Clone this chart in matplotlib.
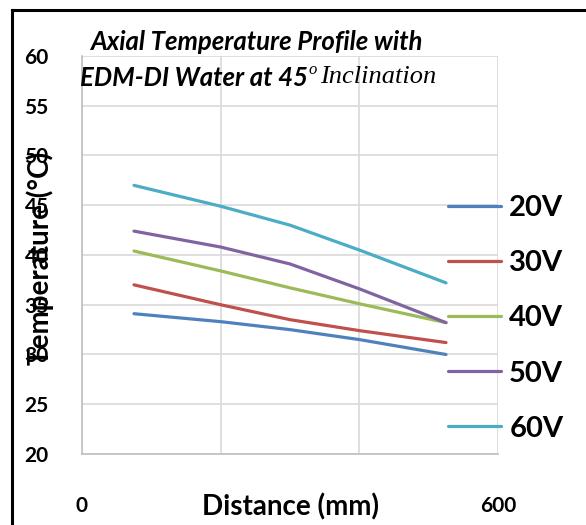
import matplotlib
matplotlib.use("Agg")
import matplotlib.pyplot as plt
from matplotlib.lines import Line2D

# data
distance = [75, 200, 300, 400, 525]
t20 = [34.1, 33.3, 32.5, 31.5, 30.0]
t30 = [37.0, 35.0, 33.5, 32.4, 31.2]
t40 = [40.4, 38.4, 36.7, 35.1, 33.2]
t50 = [42.4, 40.8, 39.1, 36.6, 33.2]
t60 = [47.0, 44.9, 43.0, 40.5, 37.2]
labels = ["20V", "30V", "40V", "50V", "60V"]
colors = ["#4F81BD", "#C0504D", "#9BBB59", "#8064A2", "#4BACC6"]

plt.rcParams['font.family'] = ['Lato', 'DejaVu Sans']

fig = plt.figure(figsize=(5.86, 5.25), dpi=100)
ax = fig.add_axes([82/586, 71/525, 416/586, 398/525])

for ys, lab, c in zip([t20, t30, t40, t50, t60], labels, colors):
    ax.plot(distance, ys, color=c, lw=2.3, label=lab,
            solid_capstyle='round', solid_joinstyle='round')

ax.set_xlim(0, 600)
ax.set_ylim(20, 60)
ax.set_xticks([0, 200, 400, 600])
ax.set_xticklabels(['0', '', '', '600'])
ax.set_yticks(range(20, 61, 5))
ax.grid(True, color='#d9d9d9', lw=1.2)
ax.set_axisbelow(True)
for s in ['top', 'right']:
    ax.spines[s].set_visible(False)
for s in ['left', 'bottom']:
    ax.spines[s].set_color('#bfbfbf')
    ax.spines[s].set_linewidth(1.2)
ax.tick_params(length=0)
ax.tick_params(axis='y', pad=24, labelsize=15)
ax.tick_params(axis='x', pad=30, labelsize=15)
for t in ax.get_xticklabels() + ax.get_yticklabels():
    t.set_fontweight('bold')

ax.set_xlabel('Distance (mm)', fontsize=20, fontweight='bold', labelpad=-16)
fig.text(40/586, 1 - 258/525, 'Temperature (°C)', rotation=90, fontsize=20,
         fontweight='bold', ha='center', va='center')

leg = fig.legend(loc='upper left', bbox_to_anchor=(448/586, 1 - 195/525),
                 frameon=False, prop={'size': 21, 'weight': 'bold'},
                 handlelength=1.8, handletextpad=0.3, labelspacing=1.0,
                 borderpad=0, borderaxespad=0)

# title, two lines, mixed fonts
fig.text(256/586, 1 - 42/525, 'Axial Temperature Profile with', fontsize=18.5,
         fontweight='bold', fontstyle='italic', ha='center', va='center')
t1 = fig.text(80/586, 1 - 78/525, 'EDM-DI Water at 45', fontsize=18.5,
              fontweight='bold', fontstyle='italic', ha='left', va='center')
fig.canvas.draw()
bb = t1.get_window_extent()
t2 = fig.text(bb.x1 / 586 + 1/586, 1 - 70/525, 'o', fontsize=12,
              family='Liberation Serif', fontstyle='italic', ha='left', va='center')
fig.canvas.draw()
bb2 = t2.get_window_extent()
fig.text(bb2.x1 / 586 + 3/586, 1 - 77/525, 'Inclination', fontsize=19,
         family='Liberation Serif', fontstyle='italic', ha='left', va='center')

# outer frame (left and top edges)
fig.add_artist(Line2D([12/586, 12/586], [0, 1 - 10/525], color='black', lw=2.2,
                      transform=fig.transFigure))
fig.add_artist(Line2D([12/586, 1], [1 - 10/525, 1 - 10/525], color='black', lw=2.2,
                      transform=fig.transFigure))

fig.savefig('out.png', dpi=100)
